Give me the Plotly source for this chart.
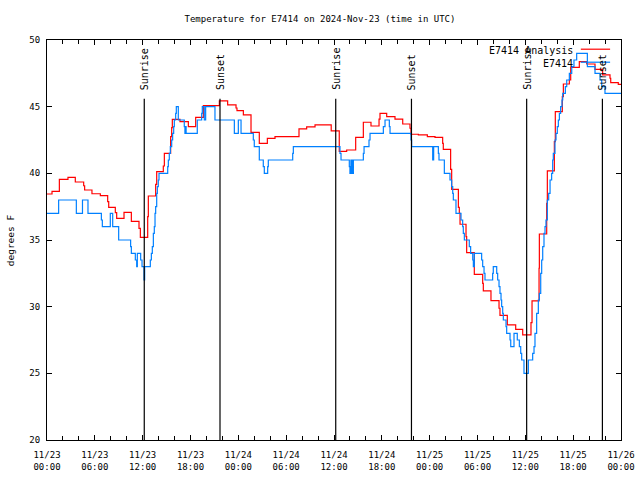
import pandas as pd
import plotly.graph_objects as go

# ---- data (hours after 2024-11-23 00:00 UTC) ----
analysis_hours = [0, 0.63, 1.55, 2.63, 3.55, 4.6, 4.72, 5.64, 6.69, 7.61, 7.74, 8.57, 8.74, 9.66,
                  10.58, 11.54, 11.71, 12.63, 12.71, 13.63, 13.76, 14.59, 14.72, 15.51, 15.64, 15.72,
                  16.68, 17.73, 18.65, 19.61, 21.62, 22.66, 23.71, 23.83, 24.63, 25.59, 26.63, 27.64,
                  28.6, 31.61, 32.57, 33.62, 35.65, 36.66, 37.59, 38.72, 39.68, 40.64, 41.65, 41.77,
                  42.61, 43.65, 44.62, 45.53, 45.66, 46.58, 47.71, 48.67, 49.63, 49.71, 50.63, 50.76,
                  51.6, 51.72, 51.81, 52.56, 52.64, 53.6, 54.65, 54.73, 55.69, 56.7, 56.82, 57.74,
                  58.79, 59.67, 60.71, 60.84, 61.72, 61.76, 62.68, 62.76, 63.64, 63.76, 64.64, 64.77,
                  65.52, 65.69, 66.77, 67.7, 68.74, 69.7, 70.62, 70.71, 71.66, 72]
analysis_temp = [38.45, 38.65, 39.55, 39.7, 39.35, 39.07, 38.75, 38.47, 38.33, 37.88, 37.45, 37.05, 36.62, 37.07,
                 36.4, 35.87, 35.2, 36.75, 38.3, 39.17, 40.13, 40.55, 41.5, 42.75, 43.43, 44.05,
                 43.88, 43.5, 44.2, 45.08, 45.43, 45.13, 44.9, 44.7, 44.38, 43.07, 42.25, 42.62,
                 42.75, 43.33, 43.48, 43.63, 43.18, 41.65, 41.75, 42.7, 43.83, 43.55, 44.07, 44.5,
                 44.25, 44.07, 43.7, 43.38, 42.93, 42.88, 42.75, 42.7, 42.25, 41.8, 40.3, 38.8,
                 37.45, 37.0, 36.18, 35.25, 34.05, 32.42, 31.75, 31.18, 30.45, 29.88, 29.35, 28.63,
                 28.3, 27.88, 28.8, 30.43, 32.88, 35.45, 37.75, 40.18, 42.38, 44.63, 45.75, 46.7,
                 47.0, 47.95, 48.38, 48.2, 47.8, 47.38, 47.13, 46.8, 46.67, 46.67]

obs_hours = [0, 1.46, 3.68, 4.45, 5.14, 6.82, 6.94, 7.94, 8.24, 8.99, 10.49, 10.58, 11.08, 11.25,
             11.33, 11.75, 11.92, 12.17, 12.25, 12.96, 13.09, 13.21, 13.34, 13.46, 13.55, 13.63,
             13.76, 13.84, 13.96, 14.05, 15.14, 15.22, 15.34, 15.47, 15.64, 15.76, 15.89, 15.97,
             16.14, 16.22, 16.47, 17.22, 17.3, 17.38, 17.45, 18.85, 19.4, 19.48, 19.73, 19.9, 21.07, 23.5,
             24.0, 24.34, 25.88, 26.0, 26.63, 27.13, 27.26, 27.68, 27.76, 30.82, 30.9, 36.75,
             36.88, 37.92, 38.0, 38.12, 38.18, 38.3, 38.35, 38.43, 39.68, 39.77, 40.39, 40.52, 42.19, 42.4,
             42.94, 43.03, 45.66, 45.74, 48.38, 48.5, 49.09, 49.17, 49.84, 50.55, 50.76, 50.89,
             50.97, 51.3, 51.93, 52.14, 52.22, 52.35, 52.97, 53.14, 53.4, 53.48, 53.6, 54.52,
             54.65, 54.82, 54.94, 55.9, 55.98, 56.41, 56.53, 56.7, 56.82, 56.95, 57.03, 57.16,
             57.24, 57.58, 57.66, 58.08, 58.17, 58.58, 58.99, 59.25, 59.42, 59.54, 59.83, 60.38,
             60.92, 61.09, 61.21, 61.42, 61.63, 61.76, 61.93, 62.05, 62.18, 62.34, 62.47, 62.59,
             62.76, 62.93, 63.1, 63.3, 63.43, 63.51, 63.72, 63.85, 64.01, 64.14, 64.27, 64.43,
             64.6, 64.69, 65.02, 65.19, 65.52, 65.82, 66.1, 66.44, 67.78, 68.74, 69.37, 69.58,
             69.99, 72]
obs_temp = [37, 38, 37, 38, 37, 36.5, 36, 37, 36, 35, 34.5, 34, 33.5, 33,
            34, 33.5, 33, 32, 33, 33.5, 34, 34.5, 35.5, 36, 37, 37.5,
            38.5, 39, 39.5, 40, 40.5, 41, 41.5, 42, 42.5, 43, 43.5, 44,
            44.5, 45, 44, 43.5, 43, 43.5, 43, 44, 44.5, 45, 44, 45, 44, 43,
            44, 43, 42.5, 42, 41, 40.5, 40, 40.5, 41, 41.5, 42, 41.5,
            41, 40.5, 40, 41, 40, 41, 40, 41, 41.5, 42, 42.5, 43, 43.5, 44,
            43.5, 43, 42.5, 42, 41, 42, 41.5, 41, 40, 39.5, 39, 38.5,
            38, 37, 36.5, 36, 35.5, 35, 34.5, 34, 33.5, 33, 34, 33.5,
            33, 32.5, 32, 32.5, 33, 32.5, 32, 31.5, 31, 30.5, 30, 29.5,
            29, 28.5, 28, 27.5, 27, 28, 27.5, 27, 26.5, 26, 25, 26,
            26.5, 27, 28, 29.5, 30.5, 31, 32.5, 33.5, 34.5, 35.5, 36, 36.5,
            38, 38.5, 39.5, 40, 41, 41.5, 42.5, 43, 43.5, 44, 44.5, 45,
            45.5, 46, 46.5, 47, 47.5, 48, 48.5, 49, 48, 47.5, 47, 46.5,
            46, 46]

event_times = ["2024-11-23 12:12", "2024-11-23 21:42", "2024-11-24 12:13",
               "2024-11-24 21:43", "2024-11-25 12:10", "2024-11-25 21:40"]
event_labels = ["Sunrise", "Sunset", "Sunrise", "Sunset", "Sunrise", "Sunset"]

tick_times = ["2024-11-23 00:00", "2024-11-23 06:00", "2024-11-23 12:00", "2024-11-23 18:00",
              "2024-11-24 00:00", "2024-11-24 06:00", "2024-11-24 12:00", "2024-11-24 18:00",
              "2024-11-25 00:00", "2024-11-25 06:00", "2024-11-25 12:00", "2024-11-25 18:00",
              "2024-11-26 00:00"]
tick_labels = ["11/23<br>00:00", "11/23<br>06:00", "11/23<br>12:00", "11/23<br>18:00",
               "11/24<br>00:00", "11/24<br>06:00", "11/24<br>12:00", "11/24<br>18:00",
               "11/25<br>00:00", "11/25<br>06:00", "11/25<br>12:00", "11/25<br>18:00",
               "11/26<br>00:00"]

series_names = ["E7414 Analysis", "E7414"]
series_colors = ["#ff0000", "#0080ff"]

base = pd.Timestamp("2024-11-23 00:00")
ax = base + pd.to_timedelta(analysis_hours, unit="h")
ox = base + pd.to_timedelta(obs_hours, unit="h")

FONT = "DejaVu Sans Mono"

fig = go.Figure()
fig.add_trace(go.Scatter(x=ax, y=analysis_temp, mode="lines", line_shape="hv",
                         name=series_names[0], line=dict(color=series_colors[0], width=1.2),
                         showlegend=False))
fig.add_trace(go.Scatter(x=ox, y=obs_temp, mode="lines", line_shape="hv",
                         name=series_names[1], line=dict(color=series_colors[1], width=1.2),
                         showlegend=False))

shapes = []
annotations = []
for t, lab in zip(event_times, event_labels):
    shapes.append(dict(type="line", xref="x", yref="y", x0=t, x1=t, y0=20, y1=45.6,
                       line=dict(color="black", width=1.2)))
    annotations.append(dict(x=t, y=46.1, xref="x", yref="y", text=lab, textangle=-90,
                            showarrow=False, xanchor="center", yanchor="bottom",
                            font=dict(family=FONT, size=10, color="black")))

# legend (text right-aligned, sample line to the right)
leg_y = [0.975, 0.9425]
for name, col, yy in zip(series_names, series_colors, leg_y):
    annotations.append(dict(x=0.919, y=yy, xref="paper", yref="paper", text=name,
                            showarrow=False, xanchor="right", yanchor="middle",
                            font=dict(family=FONT, size=10, color="black")))
    shapes.append(dict(type="line", xref="paper", yref="paper", x0=0.930, x1=0.981,
                       y0=yy + 0.002, y1=yy + 0.002, line=dict(color=col, width=1.2)))

annotations.append(dict(x=-0.064, y=0.5, xref="paper", yref="paper", text="degrees F",
                        textangle=-90, showarrow=False, xanchor="center", yanchor="middle",
                        font=dict(family=FONT, size=9.5, color="black")))

fig.update_layout(
    template="none",
    width=640, height=480,
    margin=dict(l=47, r=19, t=40, b=40, autoexpand=False),
    paper_bgcolor="white", plot_bgcolor="white",
    title=dict(text="Temperature for E7414 on 2024-Nov-23 (time in UTC)",
               x=0.5, xanchor="center", y=0.96, yanchor="middle",
               font=dict(family=FONT, size=9, color="black")),
    shapes=shapes, annotations=annotations,
    font=dict(family=FONT, size=9, color="black"),
)
fig.update_xaxes(range=[base, base + pd.Timedelta(hours=72)], automargin=False,
                 tickvals=pd.to_datetime(tick_times), ticktext=tick_labels,
                 ticks="inside", ticklen=5, tickcolor="black", tickwidth=1,
                 ticklabelstandoff=6,
                 minor=dict(dtick=2 * 3600 * 1000, ticks="inside", ticklen=4, tickcolor="black",
                            showgrid=False),
                 showline=True, linecolor="black", linewidth=1, mirror="ticks",
                 showgrid=False, zeroline=False,
                 tickfont=dict(family=FONT, size=9, color="black"))
fig.update_yaxes(range=[20, 50], tickvals=[20, 25, 30, 35, 40, 45, 50], automargin=False,
                 ticks="inside", ticklen=5, tickcolor="black", tickwidth=1,
                 ticklabelstandoff=4,
                 showline=True, linecolor="black", linewidth=1, mirror="ticks",
                 showgrid=False, zeroline=False,
                 tickfont=dict(family=FONT, size=9, color="black"))

fig.write_html("out.html", config={"displayModeBar": False},
               post_script="document.body.style.margin='0';document.body.style.overflow='hidden';")
